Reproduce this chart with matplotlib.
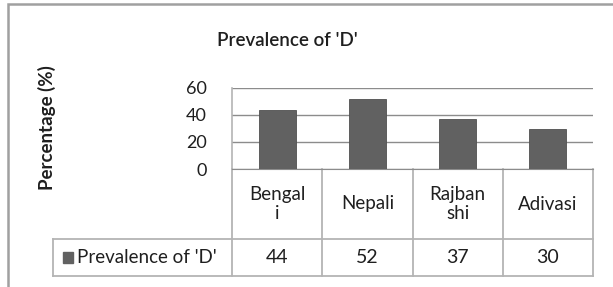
import matplotlib.pyplot as plt
from matplotlib.patches import Rectangle

# data
categories = ["Bengal\ni", "Nepali", "Rajban\nshi", "Adivasi"]
values = [44, 52, 37, 30]
series_name = "Prevalence of 'D'"
yticks = [0, 20, 40, 60]

plt.rcParams['font.family'] = ['Lato', 'DejaVu Sans']
txt = '#1f1f1f'
bar_col = '#616161'
grid_col = '#8c8c8c'
tbl_col = '#b4b4b4'

fig = plt.figure(figsize=(6.13, 2.87), dpi=100)
W, H = 613, 287

# outer chart frame
fig.patches.append(Rectangle((8 / W, -0.1), 1.2, (H - 4) / H + 0.1, transform=fig.transFigure,
                             fill=False, edgecolor='#a0a0a0', lw=1.8))

ax = fig.add_axes([232 / W, (H - 169) / H, 361 / W, 81 / H])
x = range(len(categories))
ax.bar(x, values, width=0.41, color=bar_col, edgecolor='#505050', lw=0.6, zorder=3)
ax.set_xlim(-0.5, len(categories) - 0.5)
ax.set_ylim(0, 60)
ax.set_yticks(yticks)
ax.yaxis.grid(True, color=grid_col, lw=1.0)
ax.set_axisbelow(True)
for s in ['top', 'right']:
    ax.spines[s].set_visible(False)
ax.spines['left'].set_color(tbl_col)
ax.spines['bottom'].set_color(grid_col)
ax.spines['left'].set_linewidth(1.2)
ax.set_xticks([])
ax.tick_params(axis='y', length=0, pad=18, labelsize=13, labelcolor=txt)

ax.set_ylabel("Percentage (%)", fontsize=13.5, fontweight='bold', color=txt)
ax.yaxis.set_label_coords((56 - 232) / 361, (169 - 128) / 81)
fig.text(287 / W, (H - 41) / H, series_name, ha='center', va='center', fontsize=13.5,
         fontweight='semibold', color=txt)

# data table under the axis
hdr_bot = -70 / 81
row_bot = -107 / 81
leg_left = (53 - 232) / 361
n = len(categories)
kw = dict(transform=ax.transAxes, clip_on=False, color=tbl_col, lw=1.3)
ax.plot([0, 0], [0, row_bot], **kw)
ax.plot([leg_left, 1], [hdr_bot, hdr_bot], **kw)
ax.plot([leg_left, 1], [row_bot, row_bot], **kw)
ax.plot([leg_left, leg_left], [hdr_bot, row_bot], **kw)
for i in range(1, n + 1):
    ax.plot([i / n, i / n], [0, row_bot], **kw)

for i, (c, v) in enumerate(zip(categories, values)):
    xc = (i + 0.5) / n
    ax.text(xc, hdr_bot / 2, c, transform=ax.transAxes, ha='center', va='center',
            fontsize=13.5, color=txt, linespacing=1.15)
    ax.text(xc, (hdr_bot + row_bot) / 2, str(v), transform=ax.transAxes, ha='center',
            va='center', fontsize=14, color=txt)

# legend key in the row header cell
ymid = (hdr_bot + row_bot) / 2
ax.add_patch(Rectangle(((63 - 232) / 361, ymid - 5.5 / 81), 10 / 361, 11 / 81, transform=ax.transAxes,
                       clip_on=False, color=bar_col))
ax.text((77 - 232) / 361, ymid, series_name, transform=ax.transAxes, ha='left', va='center',
        fontsize=13.5, color=txt)

fig.savefig("out.png", dpi=100)
